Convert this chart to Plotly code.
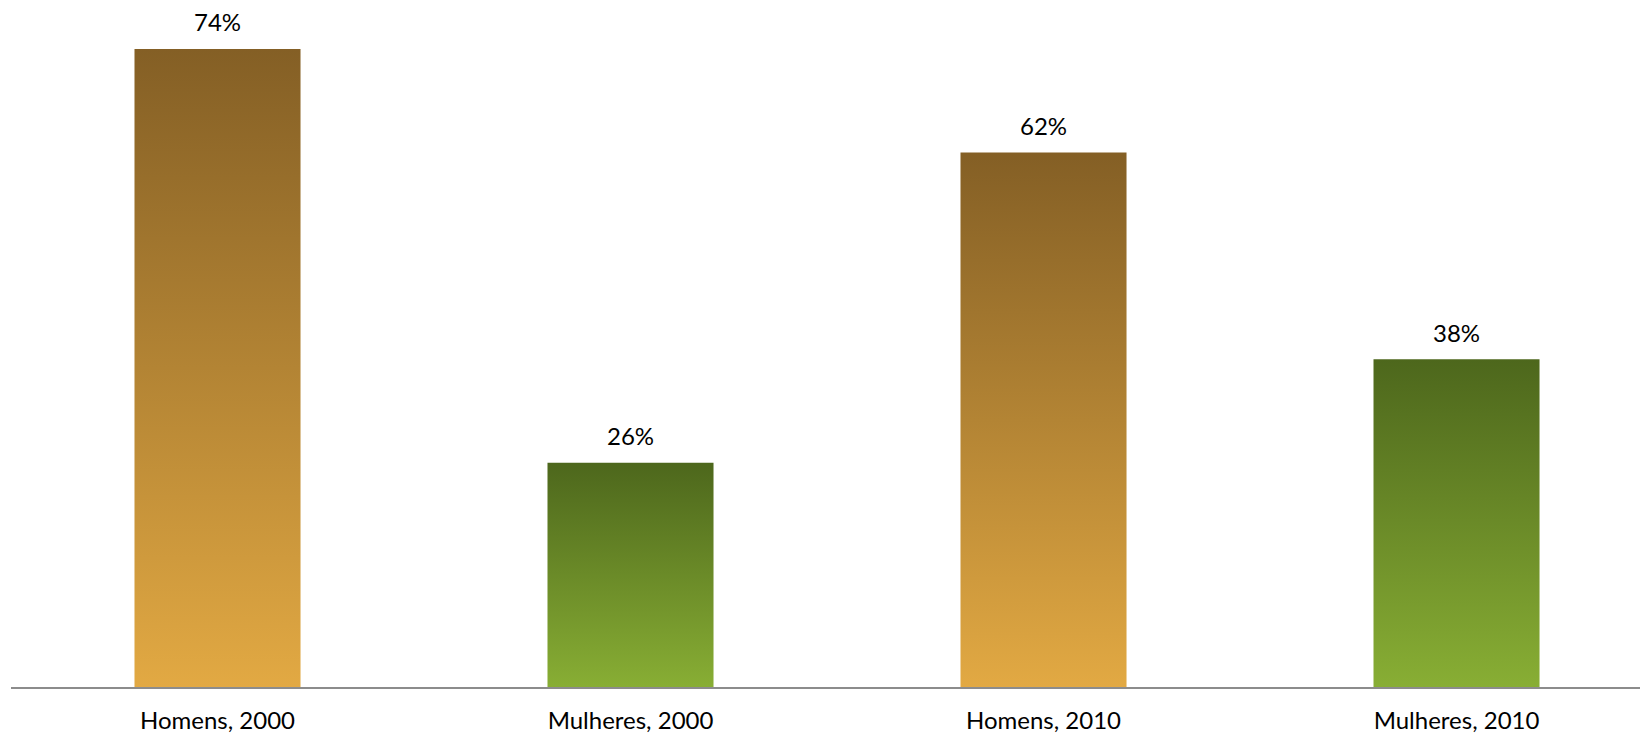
import plotly.graph_objects as go

categories = ["Homens, 2000", "Mulheres, 2000", "Homens, 2010", "Mulheres, 2010"]
values = [74, 26, 62, 38]
labels = ["74%", "26%", "62%", "38%"]

# gradient per group: bottom colour, top colour
brown = [[0, "#E2A943"], [1, "#845F25"]]
green = [[0, "#88AE34"], [1, "#4D671C"]]
scales = [brown, green, brown, green]

half = 0.201  # half bar width in category units

fig = go.Figure()
for i, (cat, v) in enumerate(zip(categories, values)):
    fig.add_trace(go.Scatter(
        x=[i - half, i + half, i + half, i - half, i - half],
        y=[0, 0, v, v, 0],
        mode="lines",
        line=dict(width=0),
        fill="toself",
        fillgradient=dict(type="vertical", colorscale=scales[i]),
        name=cat,
        hoverinfo="skip",
        showlegend=False,
    ))
    fig.add_annotation(x=i, y=v, text=labels[i], showarrow=False,
                       yanchor="middle", yshift=27,
                       font=dict(size=24, color="#000000"))

# page body has an 8px margin, margins below compensate for it
fig.update_layout(
    width=1648, height=735,
    margin=dict(l=3, r=0, t=0, b=56),
    plot_bgcolor="white", paper_bgcolor="white",
    font=dict(family="Lato", size=24, color="#000000"),
    xaxis=dict(range=[-0.5, 3.483], tickvals=list(range(len(categories))),
               ticktext=categories, showgrid=False, zeroline=False,
               showline=True, linecolor="#8C8C8C", linewidth=1.5, ticks="",
               ticklabelstandoff=11),
    yaxis=dict(range=[0, 78.75], visible=False),
)

fig.write_html("out.html")
